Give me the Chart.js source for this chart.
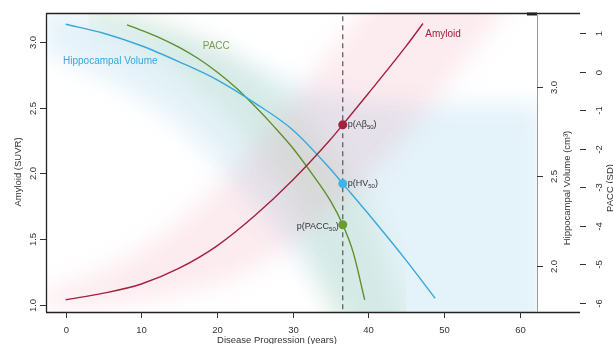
<!DOCTYPE html>
<html>
<head>
<meta charset="utf-8">
<script src="https://cdn.jsdelivr.net/npm/chart.js@4.4.1/dist/chart.umd.min.js"></script>
<style>
  html, body { margin: 0; padding: 0; background: #fff; }
  #wrap { width: 613px; height: 344px; }
</style>
</head>
<body>
<div id="wrap"><canvas id="c" width="613" height="344"></canvas></div>
<script>
// values
const xTicks = [0, 10, 20, 30, 40, 50, 60];
const amyloidTicks = [1.0, 1.5, 2.0, 2.5, 3.0];
const hvTicks = [2.0, 2.5, 3.0];
const paccTicks = [1, 0, -1, -2, -3, -4, -5, -6];

const amyYears = [0, 5, 10, 15, 20, 25, 30, 35, 36.6, 40, 45, 47.2];
const amyValues = [1.04, 1.09, 1.16, 1.28, 1.45, 1.68, 1.95, 2.26, 2.37, 2.61, 2.97, 3.14];

const hvYears = [0, 5, 10, 15, 20, 25, 30, 35, 36.6, 40, 45, 48.8];
const hvValues = [3.35, 3.30, 3.23, 3.14, 3.04, 2.91, 2.76, 2.54, 2.46, 2.29, 2.03, 1.82];

const paccYears = [8.1, 10, 12.5, 15, 17.5, 20, 22.5, 25, 27.5, 30, 32.5, 35, 36.6, 38, 39.5];
const paccValues = [1.21, 1.07, 0.87, 0.63, 0.34, -0.01, -0.42, -0.90, -1.42, -1.98, -2.64, -3.36, -3.97, -4.70, -5.92];

// soft uncertainty bands
const amyBandYears = [-3, 0, 5, 10, 15, 20, 25, 30, 35, 40, 45, 50, 55, 60, 63];
const amyBandHigh = [1.1, 1.15, 1.26, 1.42, 1.63, 1.9, 2.2, 2.55, 2.92, 3.3, 3.6, 3.9, 4.2, 4.5, 4.7];
const amyBandLow = [0.96, 0.98, 1.0, 1.04, 1.09, 1.16, 1.28, 1.47, 1.70, 1.98, 2.30, 2.65, 3.02, 3.38, 3.55];

const hvBandYears = [-3, 5, 10, 15, 20, 25, 30, 35, 40, 45, 50, 55, 63];
const hvBandHigh = [3.43, 3.39, 3.35, 3.30, 3.22, 3.12, 3.02, 2.95, 2.92, 2.9, 2.9, 2.9, 2.9];
const hvBandLow = [3.21, 3.06, 2.94, 2.79, 2.58, 2.34, 2.08, 1.81, 1.53, 1.26, 1.0, 1.0, 1.0];

const paccBandYears = [3, 5, 10, 15, 20, 25, 30, 35, 40, 45];
const paccBandHigh = [2.1, 1.9, 1.5, 1.07, 0.63, -0.01, -0.90, -1.98, -3.36, -6.3];
const paccBandLow = [1.21, 1.07, 0.63, -0.01, -0.90, -1.98, -3.36, -6.3, -8, -8];

const crossYear = 36.6;
const amyAtCross = 2.37;
const hvAtCross = 2.46;
const paccAtCross = -3.97;

const RED = '#A3203F';
const BLUE = '#35A8DC';
const GREEN = '#5F8F2C';
const FONT = '"Liberation Sans", Arial, sans-serif';

function pts(xs, ys) {
    return xs.map((x, i) => ({x: x, y: ys[i]}));
}

function band(xs, ys, axis) {
    return {data: pts(xs, ys), yAxisID: axis, borderWidth: 0, pointRadius: 0, fill: false};
}

function curve(xs, ys, axis, color) {
    return {data: pts(xs, ys), yAxisID: axis, borderColor: color, borderWidth: 1.4,
            pointRadius: 0, fill: false, cubicInterpolationMode: 'monotone'};
}

function dot(x, y, axis, color) {
    return {data: [{x: x, y: y}], yAxisID: axis, showLine: false, pointRadius: 4.5, order: -1,
            pointBackgroundColor: color, pointBorderColor: color, pointBorderWidth: 0};
}

function rotText(ctx, text, x, y) {
    ctx.save();
    ctx.translate(x, y);
    ctx.rotate(-Math.PI / 2);
    ctx.textAlign = 'center';
    ctx.textBaseline = 'middle';
    ctx.fillText(text, 0, 0);
    ctx.restore();
}

// "p(" + name + subscript 50 + ")"
function pLabel(ctx, name, x, y, alignRight) {
    const main = 'p(' + name;
    ctx.font = '9px ' + FONT;
    const w1 = ctx.measureText(main).width;
    ctx.font = '6px ' + FONT;
    const w2 = ctx.measureText('50').width;
    ctx.font = '9px ' + FONT;
    const w3 = ctx.measureText(')').width;
    let left = alignRight ? x - (w1 + w2 + w3) : x;
    ctx.textAlign = 'left';
    ctx.textBaseline = 'middle';
    ctx.fillStyle = '#333';
    ctx.fillText(main, left, y);
    ctx.font = '6px ' + FONT;
    ctx.fillText('50', left + w1, y + 2.5);
    ctx.font = '9px ' + FONT;
    ctx.fillText(')', left + w1 + w2, y);
}

const rAxes = {
    id: 'rAxes',
    // the bands are filled at beforeDraw by the filler, so blur only that step
    beforeRender(chart) { chart.ctx.filter = 'blur(12px)'; },
    beforeDraw(chart) { chart.ctx.filter = 'none'; },
    afterDraw(chart) {
        const ctx = chart.ctx;
        const a = chart.chartArea;
        const sx = chart.scales.x, sa = chart.scales.yA, sh = chart.scales.yH, sp = chart.scales.yP;
        const frameRight = a.right + 43;

        ctx.save();
        ctx.strokeStyle = '#222';
        ctx.lineWidth = 1.3;
        ctx.beginPath();
        ctx.moveTo(a.left, a.top + 0.5);
        ctx.lineTo(frameRight, a.top + 0.5);
        ctx.moveTo(a.left + 0.5, a.top);
        ctx.lineTo(a.left + 0.5, a.bottom);
        ctx.moveTo(a.left, a.bottom + 0.5);
        ctx.lineTo(frameRight, a.bottom + 0.5);
        ctx.stroke();
        ctx.lineWidth = 3;
        ctx.beginPath();
        ctx.moveTo(a.right - 10, a.top + 1);
        ctx.lineTo(a.right, a.top + 1);
        ctx.stroke();

        ctx.strokeStyle = '#999';
        ctx.lineWidth = 1;
        ctx.beginPath();
        ctx.moveTo(a.right + 0.5, a.top + 2);
        ctx.lineTo(a.right + 0.5, a.bottom);
        ctx.stroke();

        ctx.fillStyle = '#333';
        ctx.strokeStyle = '#333';
        ctx.font = '9.5px ' + FONT;

        // x axis
        ctx.textAlign = 'center';
        ctx.textBaseline = 'middle';
        ctx.beginPath();
        xTicks.forEach(t => {
            const px = Math.round(sx.getPixelForValue(t)) + 0.5;
            ctx.moveTo(px, a.bottom);
            ctx.lineTo(px, a.bottom + 6);
            ctx.fillText(String(t), px, a.bottom + 18);
        });
        ctx.stroke();
        ctx.fillText('Disease Progression (years)', 277, a.bottom + 28);

        // left: amyloid
        ctx.beginPath();
        amyloidTicks.forEach(t => {
            const py = Math.round(sa.getPixelForValue(t)) + 0.5;
            ctx.moveTo(a.left, py);
            ctx.lineTo(a.left - 6, py);
            rotText(ctx, t.toFixed(1), a.left - 13, py);
        });
        ctx.stroke();
        rotText(ctx, 'Amyloid (SUVR)', 18, 172);

        // inner right: hippocampal volume
        ctx.beginPath();
        hvTicks.forEach(t => {
            const py = Math.round(sh.getPixelForValue(t)) + 0.5;
            ctx.moveTo(a.right, py);
            ctx.lineTo(a.right + 6, py);
            rotText(ctx, t.toFixed(1), a.right + 17, py);
        });
        ctx.stroke();
        rotText(ctx, 'Hippocampal Volume (cm³)', a.right + 30, 188);

        // outer right: PACC
        ctx.beginPath();
        paccTicks.forEach(t => {
            const py = Math.round(sp.getPixelForValue(t)) + 0.5;
            ctx.moveTo(frameRight, py);
            ctx.lineTo(frameRight + 6, py);
            rotText(ctx, String(t), frameRight + 19, py);
        });
        ctx.stroke();
        rotText(ctx, 'PACC (SD)', frameRight + 30, 188);

        // curve names
        ctx.font = '10px ' + FONT;
        ctx.textAlign = 'left';
        ctx.fillStyle = RED;
        ctx.fillText('Amyloid', sx.getPixelForValue(47.5), sa.getPixelForValue(3.06));
        ctx.fillStyle = '#7C9A55';
        ctx.fillText('PACC', sx.getPixelForValue(18.1), sa.getPixelForValue(2.97));
        ctx.fillStyle = BLUE;
        ctx.fillText('Hippocampal Volume', sx.getPixelForValue(-0.35), sa.getPixelForValue(2.85));

        // threshold labels
        const cx = sx.getPixelForValue(crossYear);
        pLabel(ctx, 'Aβ', cx + 5, sa.getPixelForValue(amyAtCross), false);
        pLabel(ctx, 'HV', cx + 5, sh.getPixelForValue(hvAtCross), false);
        pLabel(ctx, 'PACC', cx - 4, sp.getPixelForValue(paccAtCross) + 2, true);
        ctx.restore();
    }
};

const ctx = document.getElementById('c');
new Chart(ctx, {
    type: 'line',
    data: {
        datasets: [
            // dashed marker first, so no fill ever targets dataset 0
            {data: [{x: crossYear, y: 0.9}, {x: crossYear, y: 3.3}], yAxisID: 'yA', borderColor: '#555',
             borderWidth: 1.2, borderDash: [5, 4], pointRadius: 0, fill: false},
            band(amyBandYears, amyBandHigh, 'yA'),
            Object.assign(band(amyBandYears, amyBandLow, 'yA'), {fill: '-1', backgroundColor: 'rgba(236,120,150,0.15)'}),
            band(hvBandYears, hvBandHigh, 'yH'),
            Object.assign(band(hvBandYears, hvBandLow, 'yH'), {fill: '-1', backgroundColor: 'rgba(120,190,225,0.20)'}),
            band(paccBandYears, paccBandHigh, 'yP'),
            Object.assign(band(paccBandYears, paccBandLow, 'yP'), {fill: '-1', backgroundColor: 'rgba(150,200,120,0.18)'}),
            curve(amyYears, amyValues, 'yA', RED),
            curve(hvYears, hvValues, 'yH', BLUE),
            curve(paccYears, paccValues, 'yP', GREEN),
            dot(crossYear, amyAtCross, 'yA', RED),
            dot(crossYear, hvAtCross, 'yH', '#3DB4EC'),
            dot(crossYear, paccAtCross, 'yP', '#6A9C30')
        ]
    },
    options: {
        responsive: false,
        animation: false,
        events: [],
        layout: { padding: { left: 46, right: 76, top: 13, bottom: 32 } },
        scales: {
            x: { type: 'linear', min: -2.6, max: 62.26, display: false },
            yA: { type: 'linear', position: 'left', min: 0.947, max: 3.22, display: false },
            yH: { type: 'linear', position: 'right', min: 1.743, max: 3.413, display: false },
            yP: { type: 'linear', position: 'right', min: -6.233, max: 1.519, display: false }
        },
        plugins: {
            legend: { display: false },
            tooltip: { enabled: false },
            filler: { drawTime: 'beforeDraw' }
        }
    },
    plugins: [rAxes]
});
</script>
</body>
</html>
